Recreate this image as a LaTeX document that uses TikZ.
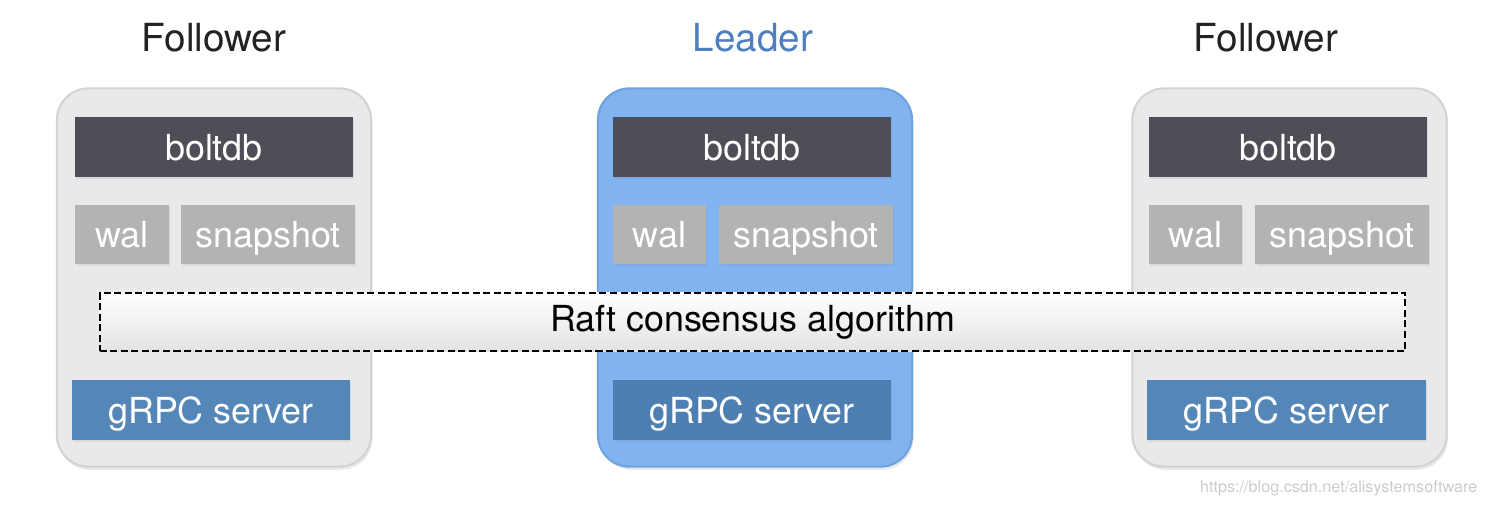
\documentclass[tikz,border=0pt]{standalone}
\usepackage{fontspec}
\setmainfont{TeX Gyre Heros}
\usepackage{xcolor}
\usetikzlibrary{shadows}
\definecolor{nodegray}{HTML}{E9E9EB}
\definecolor{nodeedge}{HTML}{D3D3D6}
\definecolor{leadblue}{HTML}{80B3EF}
\definecolor{leadedge}{HTML}{6FA2E0}
\definecolor{leadtext}{HTML}{4F7FBF}
\definecolor{roletext}{HTML}{222222}
\definecolor{boltgray}{HTML}{4E4E56}
\definecolor{loggray}{HTML}{B3B3B3}
\definecolor{rpcblue}{HTML}{5486B8}
\definecolor{rpcdark}{HTML}{4E7FB2}

\tikzset{
  txt/.style={font=\fontsize{10.2}{12}\selectfont},
  server/.style={draw=nodeedge, line width=0.6pt, fill=nodegray, rounded corners=9pt,
    minimum width=3.14cm, minimum height=3.78cm,
    drop shadow={opacity=0.18, shadow xshift=0.4pt, shadow yshift=-0.9pt}},
  leader/.style={server, draw=leadedge, fill=leadblue},
  part/.style={txt, text=white, inner sep=0pt, minimum height=0.6cm,
    text height=0.26cm, text depth=0pt,
    drop shadow={opacity=0.15, shadow xshift=0.3pt, shadow yshift=-0.5pt}},
  boltbox/.style={part, fill=boltgray, minimum width=2.78cm},
  walbox/.style={part, fill=loggray, minimum width=0.93cm, minimum height=0.59cm},
  snapbox/.style={part, fill=loggray, minimum width=1.73cm, minimum height=0.59cm},
  rpcbox/.style={part, fill=rpcblue, minimum width=2.78cm},
  band/.style={txt, draw=black, line width=0.6pt, dash pattern=on 2pt off 1pt,
    top color=white, bottom color=gray!22, minimum width=13.05cm, minimum height=0.58cm,
    inner sep=0pt},
  role/.style={font=\fontsize{11}{13}\selectfont, text=roletext}
}

\begin{document}
\begin{tikzpicture}[x=0.01cm, y=-0.01cm]
  \useasboundingbox (0,0) rectangle (1488,506);

  % roles
  \node[role] (role-a) at (214,38) {Follower};
  \node[role, text=leadtext] (role-b) at (753,38) {Leader};
  \node[role] (role-c) at (1266,38) {Follower};

  % servers
  \node[server] (srv-a) at (214,277.5) {};
  \node[leader] (srv-b) at (755,277.5) {};
  \node[server] (srv-c) at (1289.5,277.5) {};

  % storage layer
  \node[boltbox] (bolt-a) at (214,147) {boltdb};
  \node[walbox] (wal-a) at (122,234.5) {wal};
  \node[snapbox] (snap-a) at (268,234.5) {snapshot};
  \node[boltbox] (bolt-b) at (752,147) {boltdb};
  \node[walbox] (wal-b) at (659.5,234.5) {wal};
  \node[snapbox] (snap-b) at (806,234.5) {snapshot};
  \node[boltbox] (bolt-c) at (1288,147) {boltdb};
  \node[walbox] (wal-c) at (1195.5,234.5) {wal};
  \node[snapbox] (snap-c) at (1342,234.5) {snapshot};

  % rpc layer
  \node[rpcbox] (rpc-a) at (211,410) {gRPC server};
  \node[rpcbox, fill=rpcdark] (rpc-b) at (752,410) {gRPC server};
  \node[rpcbox] (rpc-c) at (1286.5,410) {gRPC server};

  % consensus
  \node[band] (raft) at (752.5,322) {Raft consensus algorithm};

  \node[anchor=east, inner sep=0pt, text=gray!40, font=\fontsize{4.6}{5}\selectfont] (mark) at (1478,488) {https://blog.csdn.net/alisystemsoftware};
\end{tikzpicture}
\end{document}
